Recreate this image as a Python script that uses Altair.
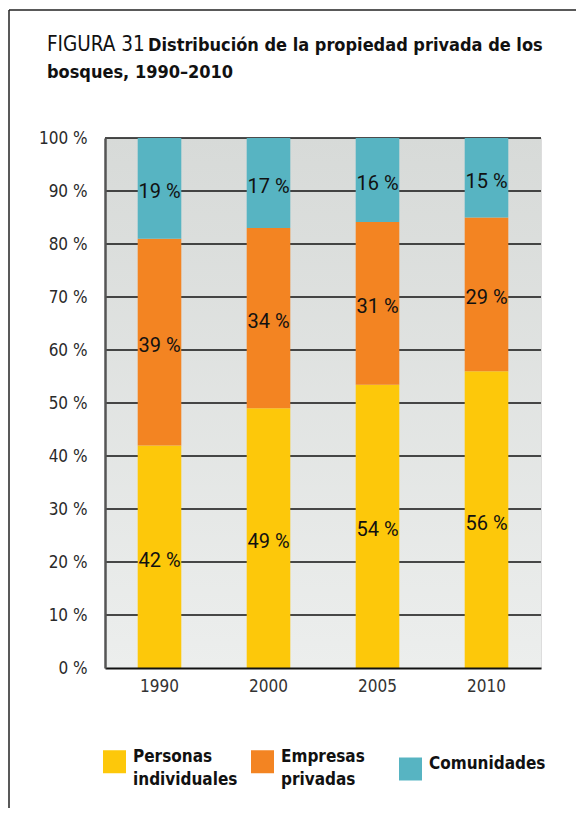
import altair as alt
import pandas as pd

years = ["1990", "2000", "2005", "2010"]
categories = ["Personas individuales", "Empresas privadas", "Comunidades"]
personas = [42, 49, 54, 56]
empresas = [39, 34, 31, 29]
comunidades = [19, 17, 16, 15]
colors = ["#fdc80a", "#f38422", "#57b4c2"]
y_ticks = [0, 0.1, 0.2, 0.3, 0.4, 0.5, 0.6, 0.7, 0.8, 0.9, 1.0]
title_prefix = "FIGURA 31"
title_line1 = "Distribución de la propiedad privada de los"
title_line2 = "bosques, 1990–2010"

COND = "DejaVu Sans Condensed, Liberation Sans Narrow, Roboto"

rows = []
for i, yr in enumerate(years):
    for j, (c, vals) in enumerate(zip(categories, [personas, empresas, comunidades])):
        rows.append({"year": yr, "cat": c, "order": j, "value": vals[i],
                     "label": f"{vals[i]} %"})
df = pd.DataFrame(rows)

W, H = 436, 530
yscale = alt.Scale(domain=[0, 1], nice=False, zero=True)
xscale = alt.Scale(domain=years, paddingInner=0.6, paddingOuter=0.3)

y_axis = alt.Axis(
    title=None, values=y_ticks, labelExpr="round(datum.value * 100) + ' %'",
    grid=False, ticks=False, domainColor="#555", domainWidth=2.5,
    labelPadding=18, labelFontSize=17, labelColor="#2a2a2a", labelFont=COND,
    labelFontWeight=300, zindex=1)
x_axis = alt.Axis(
    title=None, labelAngle=0, ticks=False, domainColor="#111", domainWidth=2,
    labelFontSize=17, labelColor="#333", labelPadding=10, labelFont=COND,
    labelFontWeight=300, zindex=1)

background = alt.Chart(pd.DataFrame({"a": [0]})).mark_rect(
    color=alt.LinearGradient(
        gradient="linear",
        stops=[alt.GradientStop(color="#d7dad8", offset=0),
               alt.GradientStop(color="#eceeed", offset=1)],
        x1=0, x2=0, y1=0, y2=1)
).encode(x=alt.value(0), x2=alt.value(W), y=alt.value(0), y2=alt.value(H))

grid = alt.Chart(pd.DataFrame({"v": y_ticks[1:]})).mark_rule(
    color="#111", strokeWidth=1.5
).encode(y=alt.Y("v:Q", scale=yscale, axis=y_axis))

stacked = alt.Chart(df).transform_stack(
    stack="value", groupby=["year"], as_=["y0", "y1"], offset="normalize",
    sort=[alt.SortField("order", order="ascending")]
).transform_calculate(mid="(datum.y0 + datum.y1) / 2")

bars = stacked.mark_bar(stroke=None).encode(
    x=alt.X("year:N", scale=xscale, sort=years, axis=x_axis),
    y=alt.Y("y0:Q", scale=yscale, axis=y_axis),
    y2="y1:Q",
    color=alt.Color("cat:N", scale=alt.Scale(domain=categories, range=colors),
                    legend=alt.Legend(
                        orient="none", legendX=-2, legendY=612, direction="horizontal",
                        columns=3, gridAlign="all",
                        title=None, symbolType="square", symbolSize=529,
                        symbolStrokeWidth=0, symbolOpacity=1,
                        labelExpr="split(datum.label, ' ')", labelBaseline="alphabetic",
                        labelFontSize=17, labelFontWeight="bold", labelFont=COND,
                        labelColor="#111", labelOffset=7, columnPadding=1,
                        padding=0, labelLimit=400)),
    order=alt.Order("order:Q"),
)

labels = stacked.mark_text(fontSize=20, color="#111", baseline="middle", dy=4,
                           font="Roboto").encode(
    x=alt.X("year:N", scale=xscale, sort=years, axis=x_axis),
    y=alt.Y("mid:Q", scale=yscale, axis=y_axis),
    text="label:N",
)

tdf = pd.DataFrame({"a": [0]})
t0 = alt.Chart(tdf).mark_text(text=title_prefix, font=COND, fontSize=20.5,
                              fontWeight=300, color="#111", align="left",
                              baseline="middle").encode(
    x=alt.value(-58), y=alt.value(-93))
t1 = alt.Chart(tdf).mark_text(text=title_line1, font=COND, fontSize=18,
                              fontWeight="bold", color="#111", align="left",
                              baseline="middle").encode(
    x=alt.value(43), y=alt.value(-92))
t2 = alt.Chart(tdf).mark_text(text=title_line2, font=COND, fontSize=18,
                              fontWeight="bold", color="#111", align="left",
                              baseline="middle").encode(
    x=alt.value(-58), y=alt.value(-65))

frame_v = alt.Chart(tdf).mark_rule(color="#222", strokeWidth=1.5).encode(
    x=alt.value(-96), y=alt.value(-128), y2=alt.value(H + 140))
frame_h = alt.Chart(tdf).mark_rule(color="#222", strokeWidth=1.5).encode(
    x=alt.value(-96), x2=alt.value(W + 40), y=alt.value(-128))

chart = alt.layer(background, grid, bars, labels, t0, t1, t2, frame_v, frame_h).properties(
    width=W, height=H,
    autosize=alt.AutoSizeParams(type="none"),
    padding={"left": 97, "top": 130, "right": 35, "bottom": 140},
).configure_view(stroke=None).configure(
    background="white",
    style={"guide-label": {"lineHeight": 23}},
)

chart.save("out.html", embed_options={"renderer": "svg", "actions": False})
